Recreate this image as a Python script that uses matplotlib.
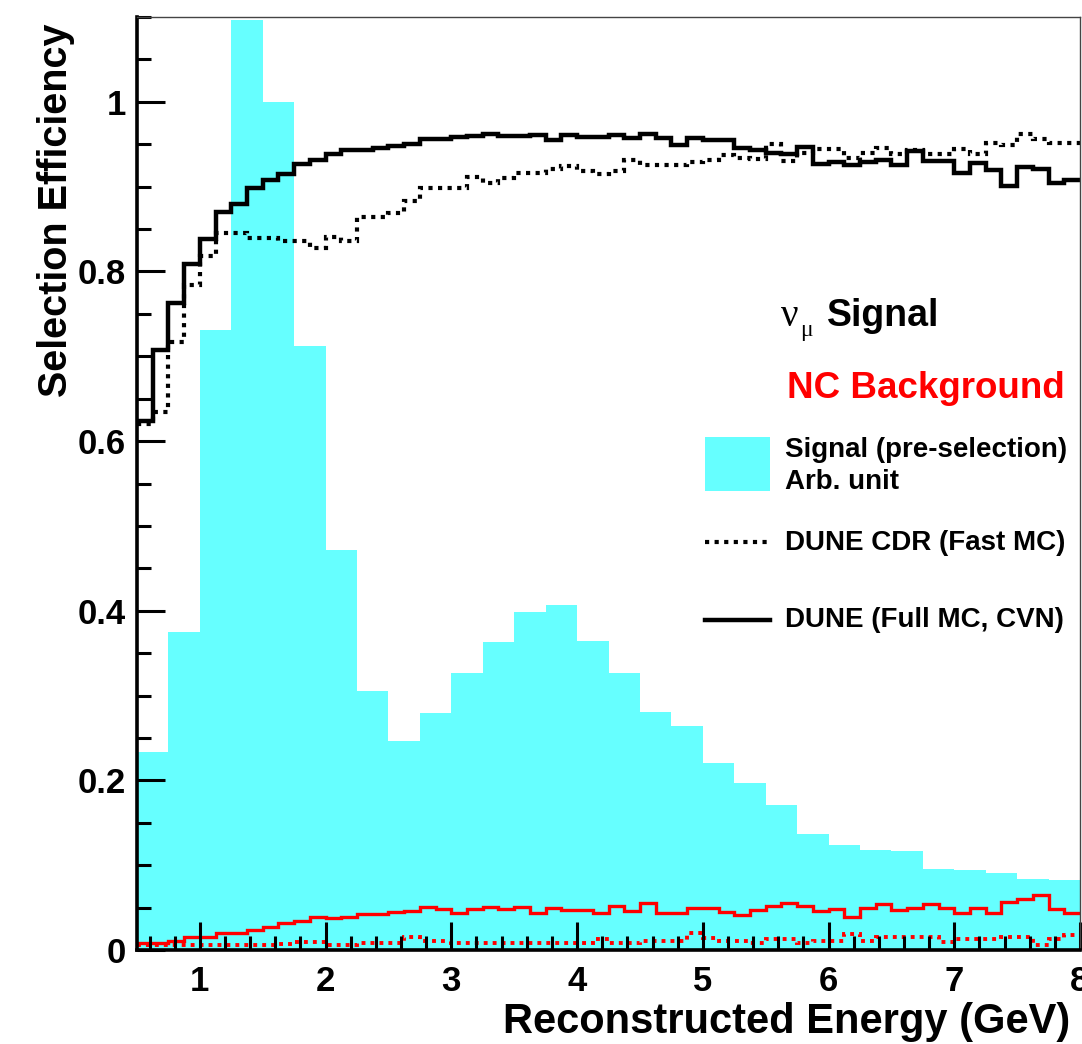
import matplotlib
matplotlib.use('Agg')
import matplotlib.pyplot as plt
import numpy as np
from matplotlib.ticker import MultipleLocator, FuncFormatter
from matplotlib.patches import Rectangle

plt.rcParams['font.family'] = ['Liberation Sans', 'DejaVu Sans']
plt.rcParams['font.weight'] = 'bold'

# signal spectrum before selection, 0.25 GeV bins from 0.5 to 8 GeV (arb. unit)
signal_presel = [0.234, 0.375, 0.731, 1.096, 1.000, 0.712, 0.472, 0.305, 0.246, 0.279,
                 0.327, 0.363, 0.399, 0.407, 0.364, 0.327, 0.281, 0.264, 0.220, 0.197,
                 0.171, 0.137, 0.124, 0.118, 0.117, 0.096, 0.0945, 0.091, 0.084, 0.083]

# efficiencies, 0.125 GeV bins from 0.5 to 8 GeV
numu_full = [0.624, 0.708, 0.763, 0.809, 0.838, 0.870, 0.879, 0.899, 0.908, 0.915,
             0.927, 0.931, 0.939, 0.943, 0.943, 0.946, 0.948, 0.950, 0.956, 0.956,
             0.959, 0.960, 0.962, 0.960, 0.960, 0.961, 0.955, 0.961, 0.959, 0.959,
             0.961, 0.957, 0.962, 0.957, 0.949, 0.957, 0.955, 0.955, 0.946, 0.943,
             0.940, 0.938, 0.947, 0.927, 0.929, 0.926, 0.929, 0.931, 0.926, 0.942,
             0.930, 0.930, 0.916, 0.928, 0.920, 0.901, 0.923, 0.921, 0.904, 0.908]

numu_fast = [0.620, 0.634, 0.717, 0.784, 0.818, 0.845, 0.845, 0.840, 0.840, 0.836,
             0.836, 0.828, 0.841, 0.836, 0.864, 0.864, 0.869, 0.883, 0.898, 0.898,
             0.898, 0.911, 0.904, 0.910, 0.916, 0.916, 0.921, 0.924, 0.918, 0.915,
             0.919, 0.932, 0.926, 0.926, 0.926, 0.929, 0.932, 0.937, 0.934, 0.933,
             0.950, 0.930, 0.940, 0.944, 0.944, 0.934, 0.940, 0.946, 0.939, 0.943,
             0.939, 0.939, 0.944, 0.939, 0.952, 0.949, 0.962, 0.956, 0.951, 0.951]

nc_full = [0.008, 0.008, 0.011, 0.015, 0.015, 0.0197, 0.0197, 0.0236, 0.0276, 0.0315,
           0.0346, 0.0386, 0.0374, 0.0394, 0.0425, 0.0425, 0.0445, 0.0464, 0.0511, 0.048,
           0.0433, 0.048, 0.0511, 0.048, 0.0511, 0.0433, 0.0492, 0.0472, 0.0472, 0.044,
           0.052, 0.0464, 0.055, 0.044, 0.044, 0.0492, 0.0492, 0.0453, 0.0413, 0.0472,
           0.052, 0.0559, 0.052, 0.0464, 0.048, 0.0394, 0.0492, 0.0543, 0.0472, 0.0492,
           0.0543, 0.0492, 0.0433, 0.0492, 0.044, 0.057, 0.0598, 0.065, 0.048, 0.044]

nc_fast = [0.006, 0.006, 0.006, 0.006, 0.006, 0.006, 0.006, 0.006, 0.006, 0.0075,
           0.0098, 0.0098, 0.006, 0.006, 0.0085, 0.0085, 0.0085, 0.015, 0.011, 0.011,
           0.0085, 0.0085, 0.0085, 0.0085, 0.0085, 0.0085, 0.0085, 0.0085, 0.0085, 0.013,
           0.008, 0.008, 0.011, 0.011, 0.011, 0.0197, 0.0138, 0.011, 0.011, 0.008,
           0.0126, 0.0126, 0.008, 0.011, 0.011, 0.019, 0.011, 0.0154, 0.0154, 0.015,
           0.015, 0.009, 0.0126, 0.0126, 0.0126, 0.015, 0.015, 0.006, 0.0126, 0.0177]

e_min, e_max = 0.5, 8.0
coarse = np.linspace(e_min, e_max, len(signal_presel) + 1)
fine = np.linspace(e_min, e_max, len(numu_full) + 1)

cyan = '#66ffff'
red = '#ff0000'
dots = (0, (1, 1.3))

fig = plt.figure(figsize=(10.82, 10.44), dpi=100)
ax = fig.add_axes([0.1266, 0.090, 0.8716, 0.8937])

ax.stairs(signal_presel, coarse, fill=True, color=cyan, lw=0)
ax.stairs(nc_fast, fine, baseline=None, color=red, lw=2.8, linestyle=dots)
ax.stairs(nc_full, fine, baseline=None, color=red, lw=2.4)
ax.stairs(numu_fast, fine, baseline=None, color='black', lw=3.0, linestyle=dots)
ax.stairs(numu_full, fine, baseline=None, color='black', lw=3.2)

ax.set_xlim(e_min, e_max)
ax.set_ylim(0, 1.1)

ax.xaxis.set_major_locator(MultipleLocator(1))
ax.xaxis.set_minor_locator(MultipleLocator(0.2))
ax.yaxis.set_major_locator(MultipleLocator(0.2))
ax.yaxis.set_minor_locator(MultipleLocator(0.05))
ax.yaxis.set_major_formatter(FuncFormatter(lambda v, p: f'{v:g}'))
ax.tick_params(which='both', direction='in', top=False, right=False, width=2.2,
               labelsize=25)
ax.tick_params(which='major', length=20)
ax.tick_params(which='minor', length=10)
ax.tick_params(axis='y', pad=8)
ax.tick_params(axis='x', pad=11)

for s in ['left', 'bottom']:
    ax.spines[s].set_linewidth(2.6)
for s in ['top', 'right']:
    ax.spines[s].set_linewidth(1.0)
    ax.spines[s].set_color('#444444')

ax.set_xlabel('Reconstructed Energy (GeV)', fontsize=30, fontweight='bold')
ax.set_ylabel('Selection Efficiency', fontsize=28.5, fontweight='bold')
ax.xaxis.set_label_coords(0.689, -0.077)
ax.xaxis.label.set_va('center')
ax.yaxis.set_label_coords(-0.066, 0.793)

# legend block, drawn by hand like the ROOT original
tr = ax.transAxes
ax.text(0.683, 0.6795, 'ν', transform=tr, fontsize=28, family='Liberation Serif',
        fontweight='normal', va='center', ha='left')
ax.text(0.703, 0.664, 'μ', transform=tr, fontsize=17, family='Liberation Serif',
        fontweight='normal', va='center', ha='left')
ax.text(0.732, 0.6795, 'Signal', transform=tr, fontsize=27, fontweight='bold',
        va='center', ha='left')
ax.text(0.689, 0.602, 'NC Background', transform=tr, fontsize=26.5, fontweight='bold',
        color=red, va='center', ha='left')

ax.add_patch(Rectangle((0.602, 0.492), 0.069, 0.058, transform=tr, color=cyan, lw=0))
ax.text(0.687, 0.536, 'Signal (pre-selection)', transform=tr, fontsize=20,
        fontweight='bold', va='center', ha='left')
ax.text(0.687, 0.5016, 'Arb. unit', transform=tr, fontsize=20,
        fontweight='bold', va='center', ha='left')

ax.plot([0.602, 0.671], [0.437, 0.437], transform=tr, color='black', lw=3.0,
        linestyle=dots)
ax.text(0.687, 0.436, 'DUNE CDR (Fast MC)', transform=tr, fontsize=20,
        fontweight='bold', va='center', ha='left')
ax.plot([0.602, 0.671], [0.3537, 0.3537], transform=tr, color='black', lw=3.2)
ax.text(0.687, 0.3537, 'DUNE (Full MC, CVN)', transform=tr, fontsize=20,
        fontweight='bold', va='center', ha='left')

fig.savefig('out.png', dpi=100)
